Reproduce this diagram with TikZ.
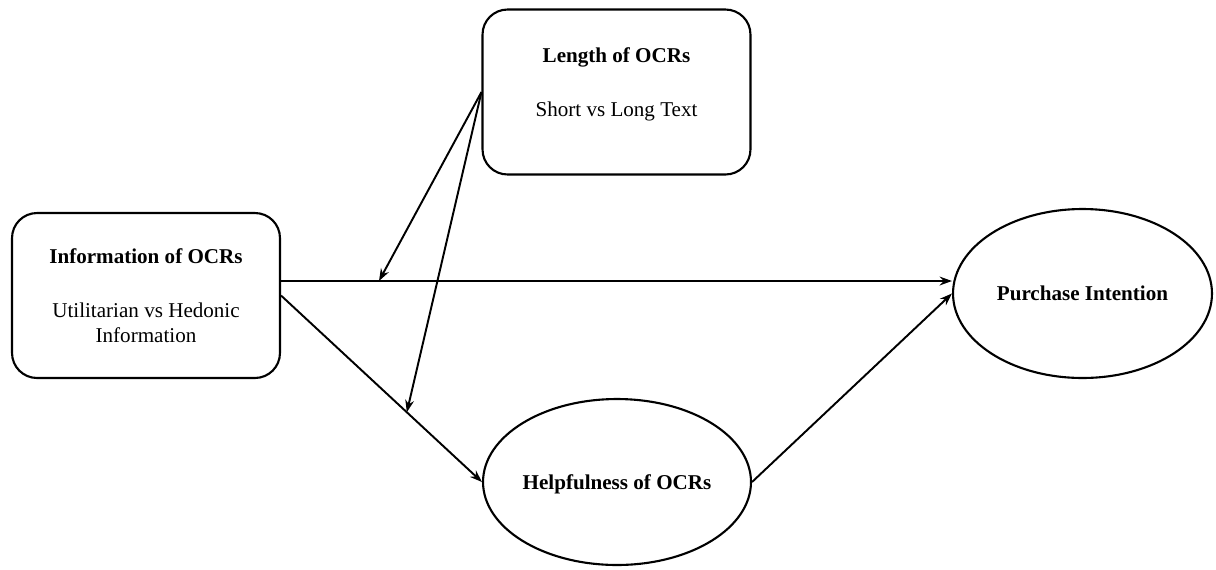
\documentclass[tikz,border=0pt]{standalone}
\usepackage{fontspec}
\setmainfont{Liberation Serif}
\usetikzlibrary{shapes.geometric,arrows.meta}

\begin{document}
\begin{tikzpicture}[x=0.02cm,y=-0.02cm,
  box/.style={draw,line width=1.2pt,rounded corners=0.5cm,align=center,
    minimum width=5.36cm,minimum height=3.3cm,font=\fontsize{12}{14}\selectfont},
  oval/.style={draw,line width=1.2pt,ellipse,inner sep=0pt,text depth=0pt,
    font=\fontsize{12}{14}\selectfont\bfseries},
  arr/.style={line width=1.1pt,-{Stealth[length=7pt,width=5pt]}}]
\useasboundingbox (0,0) rectangle (1216,569);
\node[box] (info) at (146,295.5) {\textbf{Information of OCRs}\\[17pt]
  Utilitarian vs Hedonic\\Information};
\node[box] (len) at (616.5,92) {\textbf{Length of OCRs}\\[17pt]
  Short vs Long Text\\[-3pt]~};
\node[oval,minimum width=5.36cm,minimum height=3.32cm] (help) at (617,482)
  {Helpfulness of OCRs};
\node[oval,minimum width=5.18cm,minimum height=3.38cm] (purch) at (1082.5,293.5)
  {Purchase Intention};
\draw[arr] ([yshift=0.29cm]info.east) coordinate (h)
  -- coordinate[pos=0.146] (m1) (h -| purch.west);
\draw[arr] (info.east) -- coordinate[pos=0.626] (m2) (help.west);
\draw[arr] (help.east) -- (purch.west);
\draw[arr] (len.west) -- (m1);
\draw[arr] (len.west) -- (m2);
\end{tikzpicture}
\end{document}
